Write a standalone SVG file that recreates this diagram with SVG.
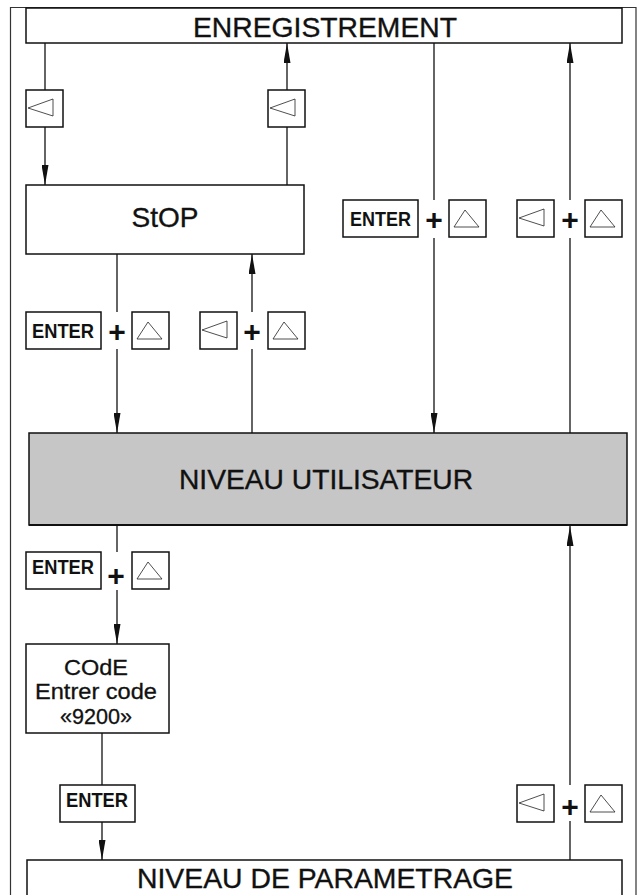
<svg xmlns="http://www.w3.org/2000/svg" width="640" height="895" viewBox="0 0 640 895">
<style>
  .box { fill: #ffffff; stroke: #111; stroke-width: 1.5; }
  .key { fill: #ffffff; stroke: #111; stroke-width: 1.5; }
  .tri { fill: none; stroke: #222; stroke-width: 0.8; }
  .ln { fill: none; stroke: #111; stroke-width: 1.3; }
  .big { font-family: "Liberation Sans", Arial, sans-serif; font-size: 28px; fill: #111; stroke: #111; stroke-width: 0.35; text-anchor: middle; }
  .mid { font-family: "Liberation Sans", Arial, sans-serif; font-size: 21.5px; fill: #111; stroke: #111; stroke-width: 0.3; }
  .ent { font-family: "Liberation Sans", Arial, sans-serif; font-size: 21px; font-weight: bold; fill: #111; }
  .plus { font-family: "Liberation Sans", Arial, sans-serif; font-size: 30px; font-weight: bold; fill: #111; text-anchor: middle; }
</style>
<defs>
  <marker id="ah" markerWidth="20" markerHeight="7" refX="20" refY="3.5" orient="auto" markerUnits="userSpaceOnUse" viewBox="0 0 20 7">
    <path d="M0,0 L20,3.5 L0,7 Z" fill="#111"/>
  </marker>
  <g id="kL">
    <rect class="key" x="0" y="0" width="37" height="37"/>
    <path class="tri" d="M27,9 L2,18 L27,26 Z"/>
  </g>
  <g id="kU">
    <rect class="key" x="0" y="0" width="37" height="37"/>
    <path class="tri" d="M16,10 L30,27 L5,27 Z"/>
  </g>
  <g id="kE">
    <rect class="key" x="0" y="0" width="75" height="37"/>
  </g>
</defs>
<rect width="640" height="895" fill="#ffffff"/>
<!-- outer frame -->
<path d="M10.5,900 L10.5,7.5 L636,7.5 L636,900" fill="none" stroke="#333" stroke-width="1.2"/>

<g id="connectors">
  <line class="ln" x1="45" y1="43" x2="45" y2="90"/>
  <line class="ln" x1="45" y1="127" x2="45" y2="185" marker-end="url(#ah)"/>
  <line class="ln" x1="287" y1="185" x2="287" y2="127"/>
  <line class="ln" x1="287" y1="90" x2="287" y2="43" marker-end="url(#ah)"/>
  <line class="ln" x1="434" y1="43" x2="434" y2="200"/>
  <line class="ln" x1="434" y1="238" x2="434" y2="433" marker-end="url(#ah)"/>
  <line class="ln" x1="570" y1="433" x2="570" y2="238"/>
  <line class="ln" x1="570" y1="200" x2="570" y2="43" marker-end="url(#ah)"/>
  <line class="ln" x1="117" y1="254" x2="117" y2="312"/>
  <line class="ln" x1="117" y1="349" x2="117" y2="433" marker-end="url(#ah)"/>
  <line class="ln" x1="252" y1="433" x2="252" y2="349"/>
  <line class="ln" x1="252" y1="312" x2="252" y2="254" marker-end="url(#ah)"/>
  <line class="ln" x1="117" y1="525" x2="117" y2="552"/>
  <line class="ln" x1="117" y1="590" x2="117" y2="644" marker-end="url(#ah)"/>
  <line class="ln" x1="102" y1="733" x2="102" y2="785"/>
  <line class="ln" x1="102" y1="822" x2="102" y2="860" marker-end="url(#ah)"/>
  <line class="ln" x1="570" y1="860" x2="570" y2="821"/>
  <line class="ln" x1="570" y1="785" x2="570" y2="526" marker-end="url(#ah)"/>
</g>

<g id="enregistrement">
  <rect class="box" x="26" y="8" width="596" height="35"/>
  <text class="big" x="325" y="37" textLength="264" lengthAdjust="spacingAndGlyphs">ENREGISTREMENT</text>
</g>

<g id="key-left-1"><use href="#kL" x="26" y="90"/></g>
<g id="key-left-2"><use href="#kL" x="268" y="90"/></g>

<g id="stop">
  <rect class="box" x="26" y="185" width="278" height="69"/>
  <text class="big" x="165" y="227" font-size="26">StOP</text>
</g>

<g id="keys-stop-down">
  <use href="#kE" x="26" y="312"/>
  <text class="ent" x="32" y="338" textLength="62" lengthAdjust="spacingAndGlyphs">ENTER</text>
  <text class="plus" x="117" y="342">+</text>
  <use href="#kU" x="132" y="312"/>
</g>
<g id="keys-stop-up">
  <use href="#kL" x="200" y="312"/>
  <text class="plus" x="252" y="342">+</text>
  <use href="#kU" x="268" y="312"/>
</g>

<g id="keys-enreg-down">
  <use href="#kE" x="343" y="200"/>
  <text class="ent" x="350" y="226" textLength="61" lengthAdjust="spacingAndGlyphs">ENTER</text>
  <text class="plus" x="434" y="230">+</text>
  <use href="#kU" x="449" y="200"/>
</g>
<g id="keys-enreg-up">
  <use href="#kL" x="517" y="200"/>
  <text class="plus" x="570" y="230">+</text>
  <use href="#kU" x="585" y="200"/>
</g>

<g id="niveau-utilisateur">
  <rect x="29" y="433" width="598" height="92" fill="#c6c6c6" stroke="#111" stroke-width="1.5"/>
  <line x1="29" y1="525" x2="627" y2="525" stroke="#111" stroke-width="2.2"/>
  <text class="big" x="326" y="489" textLength="294" lengthAdjust="spacingAndGlyphs">NIVEAU UTILISATEUR</text>
</g>

<g id="keys-code">
  <use href="#kE" x="26" y="552"/>
  <text class="ent" x="32" y="574" textLength="62" lengthAdjust="spacingAndGlyphs">ENTER</text>
  <text class="plus" x="116" y="586">+</text>
  <use href="#kU" x="132" y="552"/>
</g>

<g id="code">
  <rect class="box" x="26" y="644" width="143" height="89"/>
  <text class="mid" x="64" y="675" textLength="64" lengthAdjust="spacingAndGlyphs">COdE</text>
  <text class="mid" x="35" y="699" textLength="122" lengthAdjust="spacingAndGlyphs">Entrer code</text>
  <text class="mid" x="60" y="724" textLength="72" lengthAdjust="spacingAndGlyphs">«9200»</text>
</g>

<g id="key-enter-param">
  <use href="#kE" x="60" y="785"/>
  <text class="ent" x="66" y="807" textLength="62" lengthAdjust="spacingAndGlyphs">ENTER</text>
</g>

<g id="keys-param-up">
  <use href="#kL" x="517" y="785"/>
  <text class="plus" x="570" y="817">+</text>
  <use href="#kU" x="585" y="785"/>
</g>

<g id="niveau-parametrage">
  <rect class="box" x="27" y="860" width="595" height="45"/>
  <text class="big" x="325" y="888" textLength="376" lengthAdjust="spacingAndGlyphs">NIVEAU DE PARAMETRAGE</text>
</g>
</svg>
